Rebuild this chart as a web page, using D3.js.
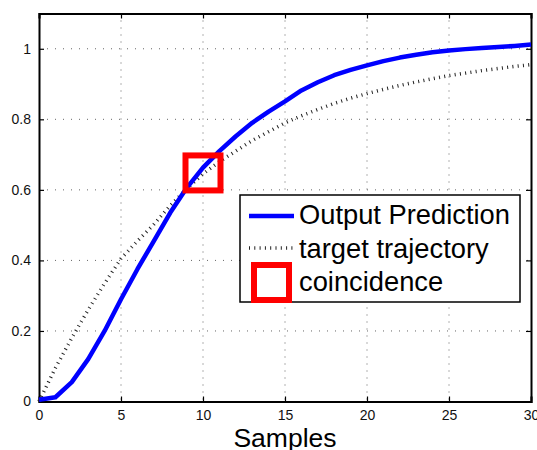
<!DOCTYPE html>
<html>
<head>
<meta charset="utf-8">
<title>Output prediction</title>
<style>
  body { margin: 0; background: #fff; }
  text { font-family: "Liberation Sans", Arial, sans-serif; }
</style>
</head>
<body>
<div id="my_dataviz"></div>
<script src="https://d3js.org/d3.v7.min.js"></script>
<script>

// data
var samples = [0,1,2,3,4,5,6,7,8,9,10,11,12,13,14,15,16,17,18,19,20,21,22,23,24,25,26,27,28,29,30];
var outputPrediction = [0.005,0.012,0.055,0.12,0.2,0.29,0.375,0.455,0.535,0.605,0.663,0.71,0.752,0.79,0.822,0.851,
  0.882,0.905,0.925,0.94,0.953,0.965,0.975,0.983,0.99,0.995,0.999,1.002,1.005,1.008,1.012];
var targetTrajectory = [0,0.095,0.18,0.26,0.335,0.405,0.455,0.502,0.555,0.603,0.645,0.68,0.71,0.74,0.765,0.79,
  0.81,0.828,0.845,0.86,0.873,0.885,0.896,0.906,0.915,0.924,0.931,0.938,0.944,0.95,0.955];
var coincidence = [{x: 10, y: 0.648}];
var xTicks = [0,5,10,15,20,25,30];
var yTicks = [0,0.2,0.4,0.6,0.8,1];
var legendLabels = ["Output Prediction", "target trajectory", "coincidence"];

// set the dimensions and margins of the graph
var margin = {top: 13.5, right: 6, bottom: 48.5, left: 39},
    width = 537 - margin.left - margin.right,
    height = 450 - margin.top - margin.bottom;

var svg = d3.select("#my_dataviz")
  .append("svg")
    .attr("width", 537)
    .attr("height", 450)
  .append("g")
    .attr("transform", "translate(" + margin.left + "," + margin.top + ")");

var x = d3.scaleLinear().domain([0, 30]).range([0, width]);
var y = d3.scaleLinear().domain([0, 1.1]).range([height, 0]);

// grid
svg.append("g").selectAll("line").data(xTicks.slice(1, -1)).enter().append("line")
  .attr("x1", function(d) { return x(d); }).attr("x2", function(d) { return x(d); })
  .attr("y1", 0).attr("y2", height)
  .attr("stroke", "#666").attr("stroke-width", 1).attr("stroke-dasharray", "1,6");
svg.append("g").selectAll("line").data(yTicks.slice(1)).enter().append("line")
  .attr("x1", 0).attr("x2", width)
  .attr("y1", function(d) { return y(d); }).attr("y2", function(d) { return y(d); })
  .attr("stroke", "#666").attr("stroke-width", 1).attr("stroke-dasharray", "1,7");

// axes, ticks inward like matlab
svg.append("g").attr("transform", "translate(0," + height + ")")
  .call(d3.axisBottom(x).tickValues(xTicks).tickSize(-5).tickPadding(9));
svg.append("g")
  .call(d3.axisLeft(y).tickValues(yTicks).tickSize(-5).tickPadding(8).tickFormat(d3.format("")));
svg.append("g")
  .call(d3.axisTop(x).tickValues(xTicks).tickSize(-5).tickFormat(""));
svg.append("g").attr("transform", "translate(" + width + ",0)")
  .call(d3.axisRight(y).tickValues(yTicks).tickSize(-5).tickFormat(""));

svg.selectAll(".domain").attr("stroke", "#000").attr("stroke-width", 2);
svg.selectAll(".tick line").attr("stroke", "#000").attr("stroke-width", 1.2);
svg.selectAll(".tick text").attr("font-size", 14).attr("fill", "#111")
  .style("font-family", "'Liberation Sans', Arial, sans-serif");

// x label
svg.append("text")
  .attr("x", x(15)).attr("y", height + 45)
  .attr("text-anchor", "middle")
  .attr("font-size", 26.5)
  .text("Samples");

// curves
var line = d3.line()
  .x(function(d, i) { return x(samples[i]); })
  .y(function(d) { return y(d); });

svg.append("path")
  .datum(targetTrajectory)
  .attr("d", line)
  .attr("fill", "none")
  .attr("stroke", "#222")
  .attr("stroke-width", 3.5)
  .attr("stroke-dasharray", "1,4.3");

svg.append("path")
  .datum(outputPrediction)
  .attr("d", line)
  .attr("fill", "none")
  .attr("stroke", "#0000ff")
  .attr("stroke-width", 4.5)
  .attr("stroke-linejoin", "round");

// coincidence marker
var sq = 35;
svg.selectAll(".coin").data(coincidence).enter().append("rect")
  .attr("class", "coin")
  .attr("x", function(d) { return x(d.x) - sq / 2; })
  .attr("y", function(d) { return y(d.y) - sq / 2; })
  .attr("width", sq).attr("height", sq)
  .attr("fill", "none").attr("stroke", "#ff0000").attr("stroke-width", 6);

// legend
var lg = svg.append("g").attr("transform", "translate(" + (240 - margin.left) + "," + (195 - margin.top) + ")");
lg.append("rect")
  .attr("width", 280).attr("height", 107)
  .attr("fill", "#fff").attr("stroke", "#000").attr("stroke-width", 1.5);

lg.append("line").attr("x1", 9).attr("x2", 54).attr("y1", 21).attr("y2", 21)
  .attr("stroke", "#0000ff").attr("stroke-width", 4.5);
lg.append("line").attr("x1", 9).attr("x2", 54).attr("y1", 53).attr("y2", 53)
  .attr("stroke", "#222").attr("stroke-width", 3.5).attr("stroke-dasharray", "1,4.3");
lg.append("rect").attr("x", 31.5 - sq / 2).attr("y", 87.5 - sq / 2).attr("width", sq).attr("height", sq)
  .attr("fill", "none").attr("stroke", "#ff0000").attr("stroke-width", 6);

lg.selectAll(".lab").data(legendLabels).enter().append("text")
  .attr("class", "lab")
  .attr("x", 59)
  .attr("y", function(d, i) { return 29 + i * 33.5; })
  .attr("font-size", 27.3)
  .attr("fill", "#000")
  .text(function(d) { return d; });

</script>
</body>
</html>
